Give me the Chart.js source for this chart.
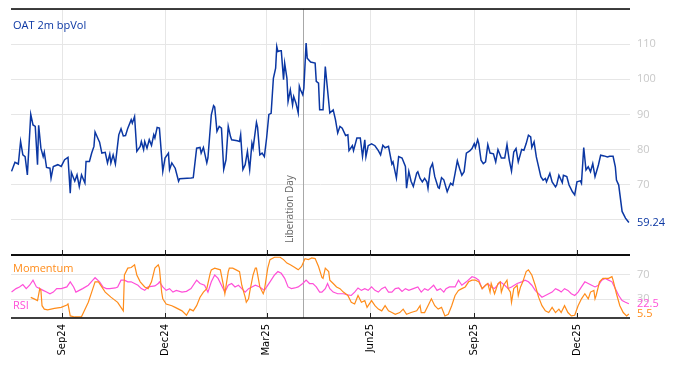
<!DOCTYPE html>
<html>
<head>
<meta charset="utf-8">
<script src="https://cdn.jsdelivr.net/npm/chart.js@4.4.1/dist/chart.umd.min.js"></script>
<style>
  html, body { margin: 0; padding: 0; background: #fff; }
  #wrap { position: relative; width: 674px; height: 366px; }
  #top { position: absolute; left: 0; top: 0; }
  #bot { position: absolute; left: 0; top: 250px; }
</style>
</head>
<body>
<div id="wrap">
  <canvas id="top" width="674" height="258"></canvas>
  <canvas id="bot" width="674" height="116"></canvas>
</div>
<script>
// x values are days counted from 1 Sep 2024
const tickDays = [0, 91, 181, 273, 365, 456];
const tickLabels = ['Sep24', 'Dec24', 'Mar25', 'Jun25', 'Sep25', 'Dec25'];
const liberationDay = 213;

const oatDays = [-45,-42,-39,-37,-35,-33,-31,-28,-26,-24,-22,-21,-19,-17,-16,-14,-11,-10,-8,-4,-1,2,5,7,8,11,13,15,17,20,21,24,26,28,29,32,33,35,38,40,42,43,45,47,50,52,54,56,58,61,62,64,66,69,70,72,73,75,77,79,81,82,84,86,89,91,94,95,97,100,103,104,114,116,119,122,123,125,128,129,132,134,135,137,139,141,143,145,147,149,150,155,157,158,160,162,164,166,168,169,172,173,175,177,179,181,183,185,187,189,190,191,193,194,196,197,199,200,202,204,205,207,209,210,211,213,214,216,217,220,224,225,227,228,231,233,234,237,240,242,244,246,248,251,253,254,257,258,261,264,266,268,269,271,274,277,280,282,284,286,289,292,293,296,298,301,304,305,307,309,311,314,315,317,319,321,323,324,326,328,330,333,334,336,338,341,344,346,348,350,352,354,356,358,361,363,365,366,368,369,371,373,375,377,379,382,384,386,389,392,394,396,398,400,402,404,407,409,411,413,415,416,418,420,421,424,426,428,429,432,434,437,438,440,443,444,447,449,452,454,456,459,460,462,464,466,468,470,472,475,477,480,483,485,488,490,491,493,496,499,502];
const oatVals = [73.8,76.4,75.9,82.3,78.5,78,72.8,90,87,86.6,75.7,86.9,80.4,78,79.3,74.9,74.7,71.9,75.2,75.7,75.2,77.1,77.8,67.6,73.5,71,72.8,69.5,72.8,70.5,76.6,76.6,79,80.9,85,82.8,82.1,79,79.2,76.2,78.7,76.2,78.5,75.9,84.2,85.9,83.9,84,86.1,88.5,87.5,89.4,79.5,80.9,82.3,80,82.3,80.4,82.8,81.2,84.2,83.3,86.3,86.1,73.8,77.6,79,74.3,76.2,74.7,71,71.7,71.9,72,80.4,80.6,79,80.6,76.2,77.6,89.9,92.5,92.1,85.2,86.6,86.1,74.4,77.1,86.6,83.7,82.8,82.5,82.3,84.2,74.3,75.7,79.5,74.3,81.8,80.4,87.7,86.3,78.5,79,78,83.3,90,90.3,100.3,103.2,109.3,107.9,108.1,108.1,99.9,104.6,100.3,93.7,97,92.7,95.1,93.2,90.4,98,97,95.6,97.5,110.3,106,104.9,104.6,99.4,98.9,91.3,91.3,103.6,100.3,90.4,91.3,88.5,84.7,86.6,86.1,84,84.2,79.7,81.1,79.7,83.3,83.3,78,82.8,78,81.1,81.6,81.1,79.7,78.5,81.2,80.5,80.9,75.9,76.5,71.9,78,77.6,75.2,69,73.8,71,69.5,73.3,73.7,71.8,70.8,71.8,70.8,69,74.6,76,72.3,69.2,69,72,71.4,68,70.4,69.9,73.2,76.8,74.6,72.7,73.7,79,79.6,80.3,81.7,80.6,82.8,81.7,77,76,76.5,81.4,79,78.8,76.5,80,77.6,77.6,81.4,77,73.9,79.3,80.3,76.5,80,79.8,81.7,84.1,83.6,80.6,82.2,77.9,76.5,72.3,71.3,71.8,70.8,73.2,70.8,69.4,69.9,72.7,70.6,72.7,72.3,69.9,68,67.1,70.8,71.1,70.4,80.6,74.2,75.1,73.7,76,72.3,75.6,78.4,78.2,77.9,78.1,78.1,75.1,71.3,69.9,62.4,60.5,59.24];

const momDays = [-28,-25,-22,-20,-19,-18,-16,-13,-7,-1,4,5,7,11,17,18,23,26,29,32,38,43,49,54,55,58,61,64,66,69,73,76,79,82,85,86,88,89,92,97,100,106,110,113,116,119,122,125,128,131,132,135,140,143,144,147,148,151,154,157,159,162,163,165,166,169,171,172,175,178,179,182,184,188,193,196,199,202,206,209,212,215,218,221,224,227,230,231,233,236,237,240,243,246,249,253,256,259,262,265,268,270,271,274,277,280,283,286,289,292,295,299,302,305,309,314,317,318,321,324,327,330,333,336,339,342,345,348,351,354,357,360,363,366,369,372,375,377,379,380,383,386,388,389,391,394,395,397,398,400,403,404,406,408,411,413,416,419,422,425,428,431,434,437,440,442,445,448,451,454,457,460,463,466,468,471,472,473,476,479,484,487,488,491,494,497,500,502];
const momVals = [33,30.6,27.7,47.5,44.6,19.3,13.7,12.5,14.8,16.5,20.4,22.1,2.4,0.7,1.3,5.2,24.9,41.8,58.7,58.7,41.8,33.4,24.9,10.8,70,81.3,82.4,86.9,70,58.7,50.3,47.5,58.7,81.3,86.9,81.3,41.8,30.6,22.1,19.3,16.5,10.8,3.5,13.7,10.8,19.3,33.4,41.8,47.5,72.8,78.5,81.3,78.5,50.3,39,75.6,81.3,81.3,78.5,75.6,53.1,33.4,24.9,30.6,41.8,70,81.3,81.3,50.3,39,44.6,81.3,95.4,99.3,99.3,95.4,89.7,86.9,82.4,78.5,84.1,97,95.4,98.2,97,84,66,64.4,81.3,75.6,61.5,55.9,50.3,47.5,41.8,36.2,24.9,22.1,36.2,24.9,27.7,16.5,19.3,27.7,19.3,13.7,10.8,19.3,10.8,8,5.2,8,13.7,5.2,8,10.8,19.3,8,8,19.3,30.6,19.3,13.7,16.5,2.4,5.2,19.3,36.2,44.6,47.5,50.3,58.7,61.5,61.5,58.7,47.5,53.1,55.9,41.8,55.9,39,55.9,58.7,41.8,53.1,61.5,47.5,41.8,24.9,47.5,53.1,36.2,50.3,58.7,75.6,78.5,70,53.1,33.4,19.3,10.8,8,16.5,8,13.7,8,19.3,8,2.4,3.5,19.3,30.6,39,30.6,41.8,44.6,30.6,36.2,58.7,64.4,64.4,67.2,61.5,39,19.3,8,2.4,5.5];

const rsiDays = [-45,-41,-38,-35,-32,-29,-26,-23,-20,-17,-14,-11,-8,-5,-1,4,7,10,12,15,18,23,27,29,33,36,39,42,47,49,52,55,58,61,64,67,70,73,76,82,85,86,89,92,95,98,101,106,110,114,119,122,126,129,132,135,138,141,144,147,150,153,156,159,162,165,168,171,175,179,184,188,191,194,197,200,203,206,209,213,216,219,222,225,228,230,233,235,237,240,244,249,253,256,259,262,265,268,271,274,277,280,283,286,289,292,295,298,301,304,307,311,315,318,321,324,329,332,335,338,340,343,348,351,354,358,363,366,369,372,375,377,380,383,388,392,395,398,403,407,410,413,416,419,422,425,428,431,434,437,440,442,445,448,451,454,457,460,463,466,469,472,475,478,481,484,487,490,493,496,499,502];
const rsiVals = [41.8,47.5,50.3,54.2,47.5,53.1,61.5,50.3,47.5,44.6,41.8,39,41.8,47.5,47.5,50.3,58.7,50.3,41.8,44.6,47.5,53.1,61.5,65.5,58.7,50.3,47.5,47.5,48.6,50.3,61.5,61.5,58.7,58.7,55.9,53.1,47.5,44.6,50.3,52,55.9,58.7,50.3,44.6,47.5,41.8,44.6,41.8,43,47.5,61.5,55.9,53.1,41.8,58.7,70,64.4,53.1,41.8,53.1,55.9,50.3,53.1,47.5,41.8,47.5,50.3,53.1,50.3,44.6,58.7,70,75.6,72.8,64.4,50.3,47.5,48.6,50.3,55.9,61.5,55.9,55.9,50.3,41.8,41.8,47.5,55.9,47.5,41.8,39,39,37.3,36.2,41.8,48.6,44.6,47.5,44.6,50.3,44.6,41.8,47.5,50.3,41.8,41.8,47.5,48.6,43,47.5,44.6,47.5,50.3,41.8,47.5,44.6,53.1,44.6,47.5,41.8,47.5,50.3,50.3,61.5,53.1,58.7,67.2,65.5,61.5,47.5,53.1,55.9,50.3,47.5,58.7,53.1,47.5,50.3,55.9,58.7,61.5,58.7,53.1,44.6,39,33.4,36.2,39,41.8,47.5,44.6,41.8,47.5,44.6,39,36.2,41.8,50.3,58.7,55.9,53.1,50.3,53.1,61.5,64.4,61.5,58.7,47.5,36.2,27.7,24.9,22.5];

const blue = '#0b37a3';
const orange = '#ff8c1a';
const pink = '#ff4fd8';

function pts(days, vals) {
  return days.map((d, i) => ({ x: d, y: vals[i] }));
}

const framePlugin = {
  id: 'frame',
  beforeDatasetsDraw(chart) {
    const { ctx, chartArea: a, scales } = chart;
    const x = Math.round(scales.x.getPixelForValue(liberationDay)) + 0.5;
    ctx.save();
    ctx.strokeStyle = '#a8a8a8';
    ctx.lineWidth = 1;
    ctx.beginPath();
    ctx.moveTo(x, a.top);
    ctx.lineTo(x, a.bottom);
    ctx.stroke();
    ctx.restore();
  },
  afterDraw(chart, args, opts) {
    const { ctx, chartArea: a, scales } = chart;
    ctx.save();
    ctx.strokeStyle = '#000';
    ctx.lineWidth = 1.3;
    ctx.beginPath();
    ctx.moveTo(a.left, a.top); ctx.lineTo(a.right, a.top);
    ctx.moveTo(a.left, a.bottom); ctx.lineTo(a.right, a.bottom);
    ctx.stroke();
    // inward ticks
    ctx.lineWidth = 1;
    ctx.strokeStyle = '#222';
    ctx.beginPath();
    tickDays.forEach(d => {
      const x = Math.round(scales.x.getPixelForValue(d)) + 0.5;
      ctx.moveTo(x, a.bottom);
      ctx.lineTo(x, a.bottom - 5);
    });
    ctx.stroke();
    // last value labels
    ctx.font = '11px "Open Sans"';
    ctx.textAlign = 'left';
    ctx.textBaseline = 'middle';
    (opts.ends || []).forEach(e => {
      ctx.fillStyle = e.color;
      ctx.fillText(e.text, a.right + 7, scales.y.getPixelForValue(e.value));
    });
    // series names
    ctx.textBaseline = 'alphabetic';
    (opts.names || []).forEach(n => {
      ctx.fillStyle = n.color;
      ctx.fillText(n.text, a.left + 2, n.top ? a.top + n.off : a.bottom - n.off);
    });
    if (opts.event) {
      const x = scales.x.getPixelForValue(liberationDay);
      ctx.translate(x - 9.5, a.bottom - 12);
      ctx.rotate(-Math.PI / 2);
      ctx.font = '10px "Open Sans"';
      ctx.fillStyle = '#666';
      ctx.fillText('Liberation Day', 0, 0);
    }
    ctx.restore();
  }
};

function xScale(showLabels) {
  return {
    type: 'linear',
    min: -45.5,
    max: 503,
    afterBuildTicks: s => { s.ticks = tickDays.map(v => ({ value: v })); },
    afterFit: s => { s.height = showLabels ? 48 : 3; s.paddingLeft = 0; s.paddingRight = 0; },
    grid: { color: '#e6e6e6', drawTicks: false },
    border: { display: false },
    ticks: {
      display: showLabels,
      minRotation: 90,
      maxRotation: 90,
      padding: 6,
      color: '#000',
      font: { family: 'DejaVu Sans', size: 10 },
      callback: (v, i) => tickLabels[i]
    }
  };
}

function yFit(s) {
  s.width = 44;
  s.paddingTop = 0;
  s.paddingBottom = 0;
}

new Chart(document.getElementById('top'), {
  type: 'line',
  data: {
    datasets: [{
      data: pts(oatDays, oatVals),
      borderColor: blue,
      borderWidth: 1.5,
      pointRadius: 0,
      tension: 0
    }]
  },
  options: {
    responsive: false,
    animation: false,
    layout: { autoPadding: false, padding: { left: 11, top: 9, right: 0, bottom: 0 } },
    plugins: {
      legend: { display: false },
      tooltip: { enabled: false },
      frame: {
        ends: [{ text: oatVals[oatVals.length - 1].toFixed(2), value: oatVals[oatVals.length - 1], color: blue }],
        names: [{ text: 'OAT 2m bpVol', color: blue, top: true, off: 20 }],
        event: true
      }
    },
    scales: {
      x: xScale(false),
      y: {
        position: 'right',
        min: 50,
        max: 120,
        afterFit: yFit,
        grid: { color: '#e6e6e6', drawTicks: false },
        border: { display: false },
        ticks: {
          stepSize: 10,
          padding: 7,
          color: '#c8c8c8',
          font: { family: 'Open Sans', size: 11 },
          callback: v => (v >= 70 && v <= 110) ? v : ''
        }
      }
    }
  },
  plugins: [framePlugin]
});

new Chart(document.getElementById('bot'), {
  type: 'line',
  data: {
    datasets: [{
      data: pts(momDays, momVals),
      borderColor: orange,
      borderWidth: 1.2,
      pointRadius: 0,
      tension: 0
    }, {
      data: pts(rsiDays, rsiVals),
      borderColor: pink,
      borderWidth: 1.2,
      pointRadius: 0,
      tension: 0
    }]
  },
  options: {
    responsive: false,
    animation: false,
    layout: { autoPadding: false, padding: { left: 11, top: 5, right: 0, bottom: 0 } },
    plugins: {
      legend: { display: false },
      tooltip: { enabled: false },
      frame: {
        ends: [
          { text: rsiVals[rsiVals.length - 1].toFixed(1), value: rsiVals[rsiVals.length - 1], color: pink },
          { text: momVals[momVals.length - 1].toFixed(1), value: momVals[momVals.length - 1], color: orange }
        ],
        names: [
          { text: 'Momentum', color: orange, top: true, off: 17 },
          { text: 'RSI', color: pink, top: false, off: 9 }
        ]
      }
    },
    scales: {
      x: xScale(true),
      y: {
        position: 'right',
        min: -1,
        max: 103,
        afterFit: yFit,
        afterBuildTicks: s => { s.ticks = [{ value: 30 }, { value: 70 }]; },
        grid: { color: '#e6e6e6', drawTicks: false },
        border: { display: false },
        ticks: {
          padding: 7,
          color: '#c8c8c8',
          font: { family: 'Open Sans', size: 11 }
        }
      }
    }
  },
  plugins: [framePlugin]
});
</script>
</body>
</html>
